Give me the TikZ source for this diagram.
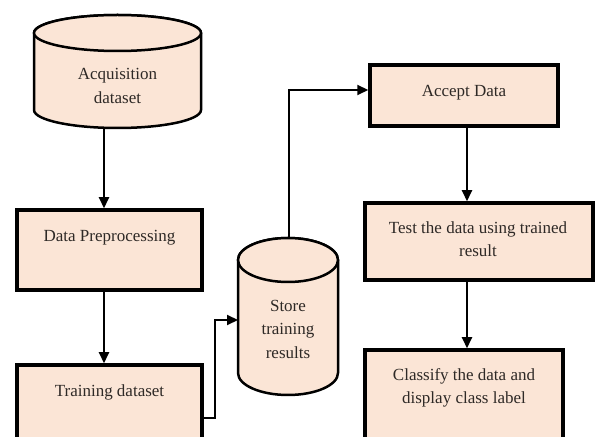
\documentclass[tikz,border=0pt]{standalone}
\usepackage{fontspec}
\setmainfont{Liberation Serif}
\usetikzlibrary{arrows.meta}
\definecolor{peach}{HTML}{FBE5D6}
\definecolor{ink}{HTML}{2E2926}
\begin{document}
\begin{tikzpicture}[x=1pt,y=1pt,
  box/.style={draw=black, line width=3.5pt, fill=peach, rectangle, inner sep=0pt},
  txt/.style={text=ink, font=\fontsize{17}{23.5}\selectfont, align=center, inner sep=0pt},
  cyl/.style={draw=black, line width=2.5pt, fill=peach},
  conn/.style={draw=black, line width=2.1pt, -{Triangle[length=11pt,width=10pt]}}]
\useasboundingbox (0,0) rectangle (598,437);
% Acquisition cylinder
\path[cyl] (34,404) -- (34,327) arc[start angle=180,end angle=360,x radius=83.5,y radius=18] -- (201,404) arc[start angle=0,end angle=180,x radius=83.5,y radius=18] -- cycle;
\draw[cyl] (117.5,404) ellipse[x radius=83.5,y radius=18];
\coordinate (acqB) at (104,309.5);
% Store cylinder
\path[cyl] (238,177) -- (238,64) arc[start angle=180,end angle=360,x radius=50,y radius=22] -- (338,177) arc[start angle=0,end angle=180,x radius=50,y radius=22] -- cycle;
\draw[cyl] (288,177) ellipse[x radius=50,y radius=22];
\coordinate (storeL) at (238,117);
\coordinate (storeTop) at (289,199);
% boxes
\node[box, minimum width=185pt, minimum height=80pt] (prep) at (109.5,187) {};
\node[box, minimum width=185pt, minimum height=80pt] (train) at (109.5,32) {};
\node[box, minimum width=188pt, minimum height=61pt] (acc) at (464,341.5) {};
\node[box, minimum width=228pt, minimum height=77pt] (test) at (479,195.5) {};
\node[box, minimum width=198pt, minimum height=95pt] (cls) at (464,39.5) {};
% texts
\node[txt] (acqT) at (117.5,351) {Acquisition\\dataset};
\node[txt] (prepT) at (109.5,199) {Data Preprocessing};
\node[txt] (trainT) at (109.5,45) {Training dataset};
\node[txt] (storeT) at (288,108) {Store\\training\\results};
\node[txt] (accT) at (464,344) {Accept Data};
\node[txt] (testT) at (478,198) {Test the data using trained\\result};
\node[txt] (clsT) at (464,49) {Classify the data and\\display class label};
% connectors
\draw[conn] (acqB) -- (acqB |- prep.north);
\draw[conn] (prep.south -| acqB) -- (train.north -| acqB);
\draw[conn] ([yshift=-13pt]train.east) -- ++(11,0) |- (storeL);
\draw[conn] (storeTop) |- ([yshift=5.5pt]acc.west);
\draw[conn] ([xshift=3pt]acc.south) -- ([xshift=3pt]acc.south |- test.north);
\draw[conn] ([xshift=3pt]acc.south |- test.south) -- ([xshift=3pt]acc.south |- cls.north);
\end{tikzpicture}
\end{document}
